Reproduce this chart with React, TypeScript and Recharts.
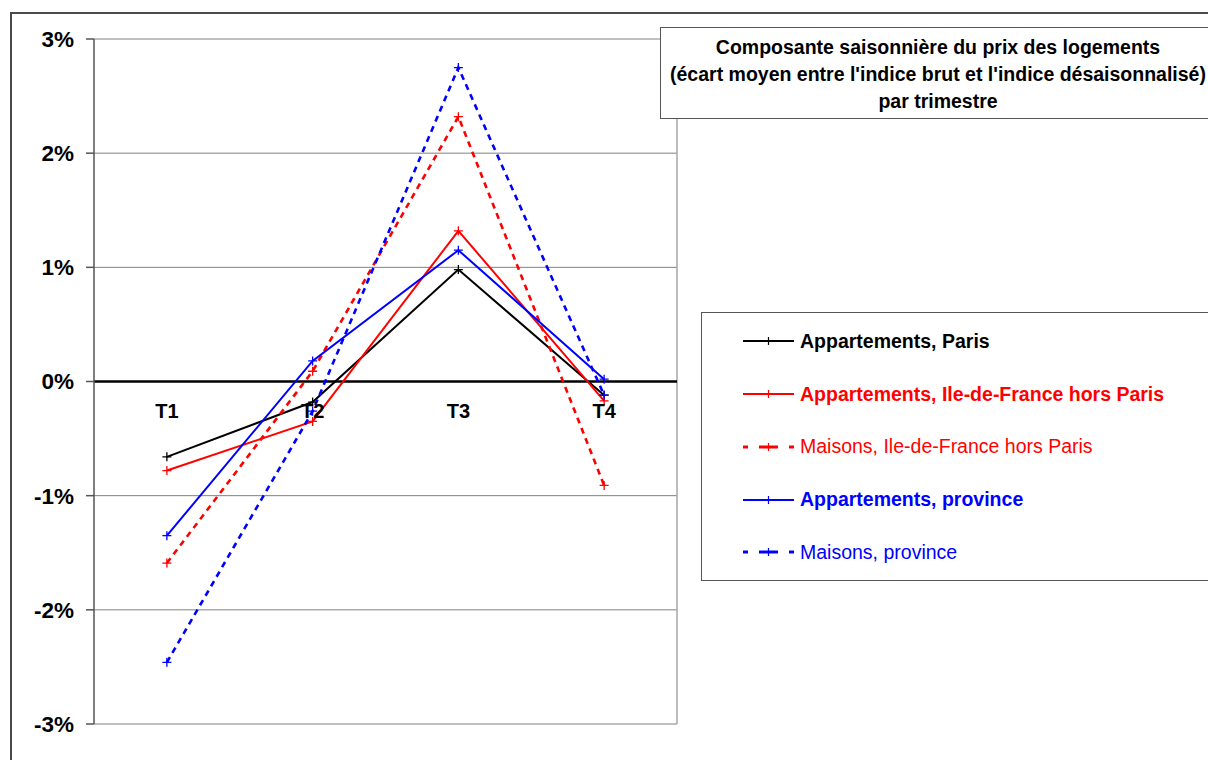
import { ComposedChart, Line, XAxis, YAxis, CartesianGrid, ReferenceLine, ReferenceDot } from "recharts";

const categories = ["T1", "T2", "T3", "T4"];

// écart en %
const appartementsParis = [-0.66, -0.18, 0.98, -0.12];
const appartementsIdf = [-0.78, -0.35, 1.32, -0.17];
const maisonsIdf = [-1.59, 0.09, 2.32, -0.91];
const appartementsProvince = [-1.35, 0.18, 1.15, 0.02];
const maisonsProvince = [-2.46, -0.26, 2.75, -0.12];

const yTicks = [-3, -2, -1, 0, 1, 2, 3];

const titleLines = [
  "Composante saisonnière du prix des logements",
  "(écart moyen entre l'indice brut et l'indice désaisonnalisé)",
  "par trimestre",
];

const series = [
  { key: "appParis", name: "Appartements, Paris", values: appartementsParis, color: "#000000", dashed: false },
  { key: "appIdf", name: "Appartements, Ile-de-France hors Paris", values: appartementsIdf, color: "#ff0000", dashed: false },
  { key: "maiIdf", name: "Maisons, Ile-de-France hors Paris", values: maisonsIdf, color: "#ff0000", dashed: true },
  { key: "appProv", name: "Appartements, province", values: appartementsProvince, color: "#0000ff", dashed: false },
  { key: "maiProv", name: "Maisons, province", values: maisonsProvince, color: "#0000ff", dashed: true },
];

const data = categories.map((cat, i) => {
  const row: Record<string, string | number> = { cat };
  series.forEach((s) => {
    row[s.key] = s.values[i];
  });
  return row;
});

const FONT = '"Liberation Sans", Arial, sans-serif';

const PlusDot = (props: any) => {
  const { cx, cy, stroke } = props;
  if (cx == null || cy == null) return null;
  return (
    <path
      d={`M${cx - 4.5},${cy}H${cx + 4.5}M${cx},${cy - 4.5}V${cy + 4.5}`}
      stroke={stroke}
      strokeWidth={1.3}
      fill="none"
    />
  );
};

const LegendSample = ({ color, dashed }: { color: string; dashed: boolean }) => (
  <svg width={51} height={12} style={{ flexShrink: 0 }}>
    <line
      x1={0}
      y1={6}
      x2={51}
      y2={6}
      stroke={color}
      strokeWidth={dashed ? 3 : 2}
      strokeDasharray={dashed ? "5 11 19 11 5" : undefined}
    />
    <path d="M21.5,6H29.5M25.5,2V10" stroke={color} strokeWidth={1.2} />
  </svg>
);

const App = () => {
  return (
    // fixed so the boxes running off the right edge don't make the page scroll
    <div style={{ position: "fixed", left: 0, top: 0, width: 1208, height: 760, overflow: "hidden", background: "#fff" }}>
      <div style={{ position: "absolute", left: 8, top: 8, width: 1200, height: 752, fontFamily: FONT }}>
        <div
          style={{
            position: "absolute",
            left: 2,
            top: 4,
            right: -10,
            bottom: -10,
            borderLeft: "2px solid #4a4a4a",
            borderTop: "2px solid #4a4a4a",
          }}
        />
        <div style={{ position: "absolute", left: 0, top: 0 }}>
          <ComposedChart width={1200} height={744} data={data} margin={{ top: 31, right: 531, bottom: 28, left: 0 }}>
            <CartesianGrid horizontal={true} vertical={false} stroke="#808080" />
            <CartesianGrid
              horizontal={false}
              vertical={true}
              stroke="#a6a6a6"
              strokeWidth={1.5}
              verticalCoordinatesGenerator={({ offset }: any) => [offset.left + offset.width]}
            />
            <XAxis dataKey="cat" scale="band" hide />
            <YAxis
              width={86}
              domain={[-3, 3]}
              ticks={yTicks}
              interval={0}
              tickFormatter={(v: number) => `${v}%`}
              axisLine={{ stroke: "#555", strokeWidth: 1.5 }}
              tickLine={{ stroke: "#555", strokeWidth: 1.5 }}
              tickSize={8}
              tickMargin={12}
              tick={{ fill: "#000", fontSize: 22.5, fontWeight: "bold" }}
            />
            <ReferenceLine y={0} stroke="#000" strokeWidth={2.5} />
            {categories.map((c) => (
              <ReferenceDot
                key={c}
                x={c}
                y={0}
                r={1}
                fill="none"
                stroke="none"
                label={{ value: c, position: "bottom", offset: 21, fill: "#000", fontSize: 20, fontWeight: "bold" }}
              />
            ))}
            {series.map((s) => (
              <Line
                key={s.key}
                type="linear"
                dataKey={s.key}
                name={s.name}
                stroke={s.color}
                strokeWidth={s.dashed ? 2.6 : 2}
                strokeDasharray={s.dashed ? "6 5" : undefined}
                dot={(p: any) => <PlusDot key={`${s.key}-${p.index}`} {...p} stroke={s.color} />}
                activeDot={false}
                isAnimationActive={false}
              />
            ))}
          </ComposedChart>
        </div>

        <div
          style={{
            position: "absolute",
            left: 652,
            top: 19,
            width: 700,
            height: 92,
            boxSizing: "border-box",
            border: "1.5px solid #555",
            background: "#fff",
            fontWeight: "bold",
            fontSize: 19.5,
            lineHeight: "27px",
            paddingTop: 6,
            color: "#000",
          }}
        >
          <div style={{ width: 554, textAlign: "center" }}>
            {titleLines.map((t) => (
              <div key={t} style={{ whiteSpace: "nowrap" }}>
                {t}
              </div>
            ))}
          </div>
        </div>

        <div
          style={{
            position: "absolute",
            left: 693,
            top: 304,
            width: 700,
            height: 269,
            boxSizing: "border-box",
            border: "1.5px solid #555",
            background: "#fff",
            paddingTop: 2,
            paddingLeft: 41,
          }}
        >
          {series.map((s) => (
            <div key={s.key} style={{ height: 52.75, display: "flex", alignItems: "center" }}>
              <LegendSample color={s.color} dashed={s.dashed} />
              <span
                style={{
                  marginLeft: 6,
                  fontSize: 19.5,
                  fontWeight: s.dashed ? "normal" : "bold",
                  color: s.color,
                  whiteSpace: "nowrap",
                }}
              >
                {s.name}
              </span>
            </div>
          ))}
        </div>
      </div>
    </div>
  );
};

export default App;
